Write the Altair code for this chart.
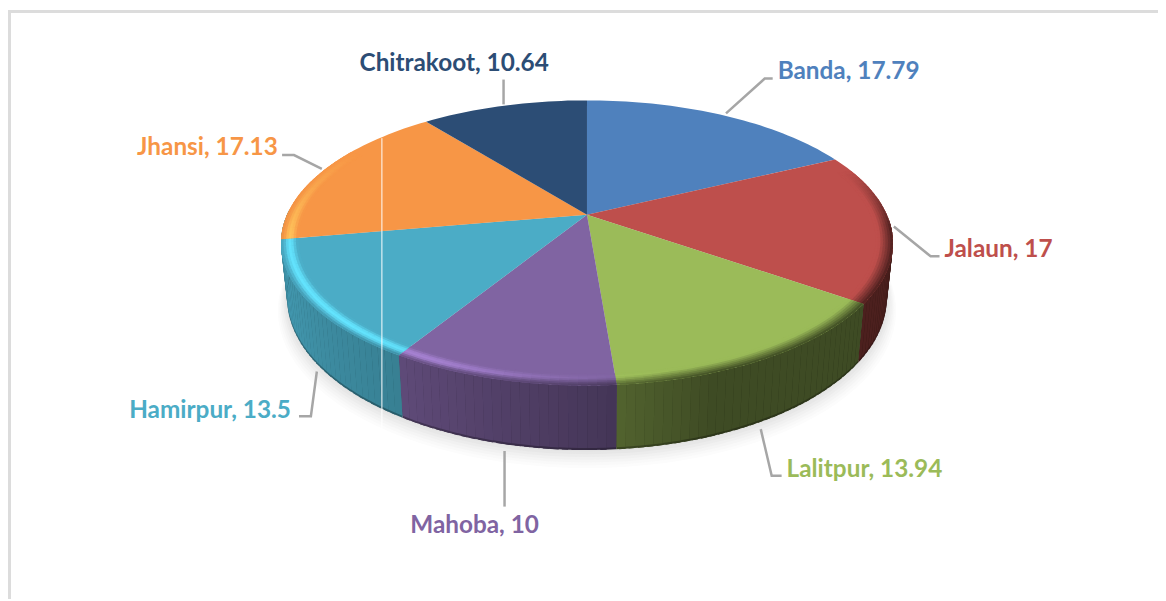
import math
import numpy as np
import altair as alt

# ---- data ----
districts = ["Banda", "Jalaun", "Lalitpur", "Mahoba", "Hamirpur", "Jhansi", "Chitrakoot"]
shares = [17.79, 17, 13.94, 10, 13.5, 17.13, 10.64]
share_labels = ["17.79", "17", "13.94", "10", "13.5", "17.13", "10.64"]
colors = ["#4F81BD", "#BE4F4C", "#9BBB59", "#8064A2", "#4BACC6", "#F79646", "#2C4D75"]

# ---- layout: page pixels, shifted by the 8px page margin ----
W, H = 1158, 593
OX, OY = 8, 8
CX, CY = 591, 214
A, B, K = 302.0, 137.9, 0.1987
BOT_CY, BOT_SX, BOT_B = 267.0, 0.98, 147.5

label_pos = [(783, 70), (951, 250), (792, 471), (413, 528), (130, 412), (138, 147), (362, 62)]
leaders = [
    [(731, 112), (770, 77), (778, 77)],
    [(900, 226), (937, 256), (946, 256)],
    [(766, 430), (777, 477), (787, 477)],
    [(508, 452), (508, 508)],
    [(319, 372), (313, 417), (301, 417)],
    [(324, 168), (296, 154), (284, 154)],
    [(507, 103), (507, 78)],
]


def top(theta, r=1.0):
    t = math.radians(theta)
    s, c = r * math.sin(t), r * math.cos(t)
    w = 1 + K * c
    return (CX + A * s / w - OX, CY - B * c / w - OY)


def bottom(theta, grow=0.0, drop=0.0):
    t = math.radians(theta)
    s, c = math.sin(t), math.cos(t)
    w = 1 + K * c
    return (CX + (BOT_SX * A + grow) * s / w - OX, BOT_CY + drop - (BOT_B + grow * 0.5) * c / w - OY)


def rgb(h):
    return tuple(int(h[i:i + 2], 16) for i in (1, 3, 5))


def hexc(c):
    return "#%02x%02x%02x" % tuple(int(max(0, min(255, round(v)))) for v in c)


def mix(a, b, t):
    return tuple(x + (y - x) * t for x, y in zip(a, b))


def poly(pts, color):
    ring = [[round(x, 1), round(y, 1)] for x, y in pts]
    ring.append(ring[0])
    return {"type": "Feature", "properties": {"c": color},
            "geometry": {"type": "Polygon", "coordinates": [ring]}}


def line(pts):
    return {"type": "Feature", "properties": {},
            "geometry": {"type": "LineString",
                         "coordinates": [[x - OX, y - OY] for x, y in pts]}}


total = sum(shares)
edges = [0.0]
for v in shares:
    edges.append(edges[-1] + v / total * 360)


def wall_factor(th):
    return float(np.interp(th, [90, 160, 178, 211, 260, 272], [0.40, 0.40, 0.55, 0.74, 0.92, 0.95]))


def highlight(th):
    return float(np.interp(th, [165, 185, 205, 225, 258, 280, 300], [0, 0.3, 0.85, 1.0, 0.95, 0.4, 0]))


def darken(th):
    return float(np.interp(th, [70, 95, 170, 190, 270, 290], [0, 1, 1, 0.8, 0.35, 0]))


features = []
# soft shadow
for d, g in zip([13, 11, 9, 7, 5, 3, 1], [252, 249, 245, 241, 236, 231, 227]):
    ths = np.arange(0, 360, 3)
    features.append(poly([bottom(t, grow=d * 0.7, drop=d * 0.95) for t in ths], hexc((g, g, g))))

# side wall: the slice that ends on the far left carries the wall round the silhouette
for i, (a0, a1) in enumerate(zip(edges[:-1], edges[1:])):
    if a0 >= 260:
        continue
    lo, hi = max(a0, 92), a1 if a1 < 250 else 272
    if hi <= lo:
        continue
    base = rgb(colors[i])
    n = max(1, int(math.ceil((hi - lo) / 1.5)))
    grid = np.linspace(lo, hi, n + 1)
    for t0, t1 in zip(grid[:-1], grid[1:]):
        t1x = min(t1 + 1.0, hi)
        c = mix((0, 0, 0), base, wall_factor((t0 + t1) / 2))
        p0, p1 = bottom(t0), bottom(t1x)
        features.append(poly([top(t0), top(t1x), p1, p0], hexc(mix((0, 0, 0), c, 0.72))))
        q0, q1 = (p0[0], p0[1] - 2), (p1[0], p1[1] - 2)
        features.append(poly([top(t0), top(t1x), q1, q0], hexc(c)))

# top face
for i, (a0, a1) in enumerate(zip(edges[:-1], edges[1:])):
    n = int(math.ceil((a1 - a0) / 1.5))
    grid = np.linspace(a0, a1, n + 1)
    pts = [(CX - OX, CY - OY)] + [top(t) for t in grid]
    features.append(poly(pts, colors[i]))

# bevel on the rim of the top face
radii = np.linspace(0.945, 1.0, 8)
for i, (a0, a1) in enumerate(zip(edges[:-1], edges[1:])):
    lo, hi = max(a0, 70), min(a1, 300)
    if hi <= lo:
        continue
    base = rgb(colors[i])
    bright = tuple(min(255, v * 1.33) for v in base)
    n = max(1, int(math.ceil((hi - lo) / 1.5)))
    grid = np.linspace(lo, hi, n + 1)
    for t0, t1 in zip(grid[:-1], grid[1:]):
        tm = (t0 + t1) / 2
        hl, dk = highlight(tm), darken(tm)
        wall = mix((0, 0, 0), base, wall_factor(max(tm, 90)))
        t1x = min(t1 + 1.0, hi)
        for j, (r0, r1) in enumerate(zip(radii[:-1], radii[1:])):
            u = ((r0 + r1) / 2 - radii[0]) / (radii[-1] - radii[0])
            c = mix(base, bright, hl * math.sin(math.pi * min(1, u * 1.05)) ** 2)
            start = 0.2 + 0.55 * hl
            amt = dk * max(0.0, (u - start) / (1 - start))
            c = mix(c, wall, min(1.0, amt))
            r1x = 1.0 if r1 >= 1.0 else min(1.0, r1 + 0.004)
            features.append(poly([top(t0, r0), top(t1x, r0), top(t1x, r1x), top(t0, r1x)], hexc(c)))

proj = dict(type="identity", scale=1, translate=[0, 0])

pie = alt.Chart(alt.InlineData(values=features, format=alt.DataFormat(type="json"))).mark_geoshape(
    strokeWidth=0
).encode(
    fill=alt.Fill("properties.c:N", scale=None),
).project(**proj)

leader_layer = alt.Chart(alt.InlineData(values=[line(l) for l in leaders], format=alt.DataFormat(type="json"))).mark_geoshape(
    filled=False, stroke="#A6A6A6", strokeWidth=2.5
).project(**proj)

frame_layer = alt.Chart(alt.InlineData(values=[line([(9.5, 601), (9.5, 9.5), (1166, 9.5)])], format=alt.DataFormat(type="json"))).mark_geoshape(
    filled=False, stroke="#DCDCDC", strokeWidth=3
).project(**proj)

artifact_layer = alt.Chart(alt.InlineData(values=[line([(384.5, 137), (384.5, 430)])], format=alt.DataFormat(type="json"))).mark_geoshape(
    filled=False, stroke="#FFFFFF", strokeWidth=1
).project(**proj)

label_rows = [
    {"t": f"{d}, {s}", "x": p[0] - OX, "y": p[1] - OY, "c": c}
    for d, s, p, c in zip(districts, share_labels, label_pos, colors)
]
labels = alt.Chart(alt.InlineData(values=label_rows)).mark_text(
    font="Lato", fontWeight="bold", fontSize=24.5, align="left", baseline="middle"
).encode(
    x=alt.X("x:Q", scale=None, axis=None),
    y=alt.Y("y:Q", scale=None, axis=None),
    text="t:N",
    color=alt.Color("c:N", scale=None),
)

chart = alt.layer(frame_layer, pie, artifact_layer, leader_layer, labels).properties(
    width=W, height=H, padding=0
).configure_view(stroke=None)

chart.save("out.html", embed_options={"renderer": "svg", "actions": False})
